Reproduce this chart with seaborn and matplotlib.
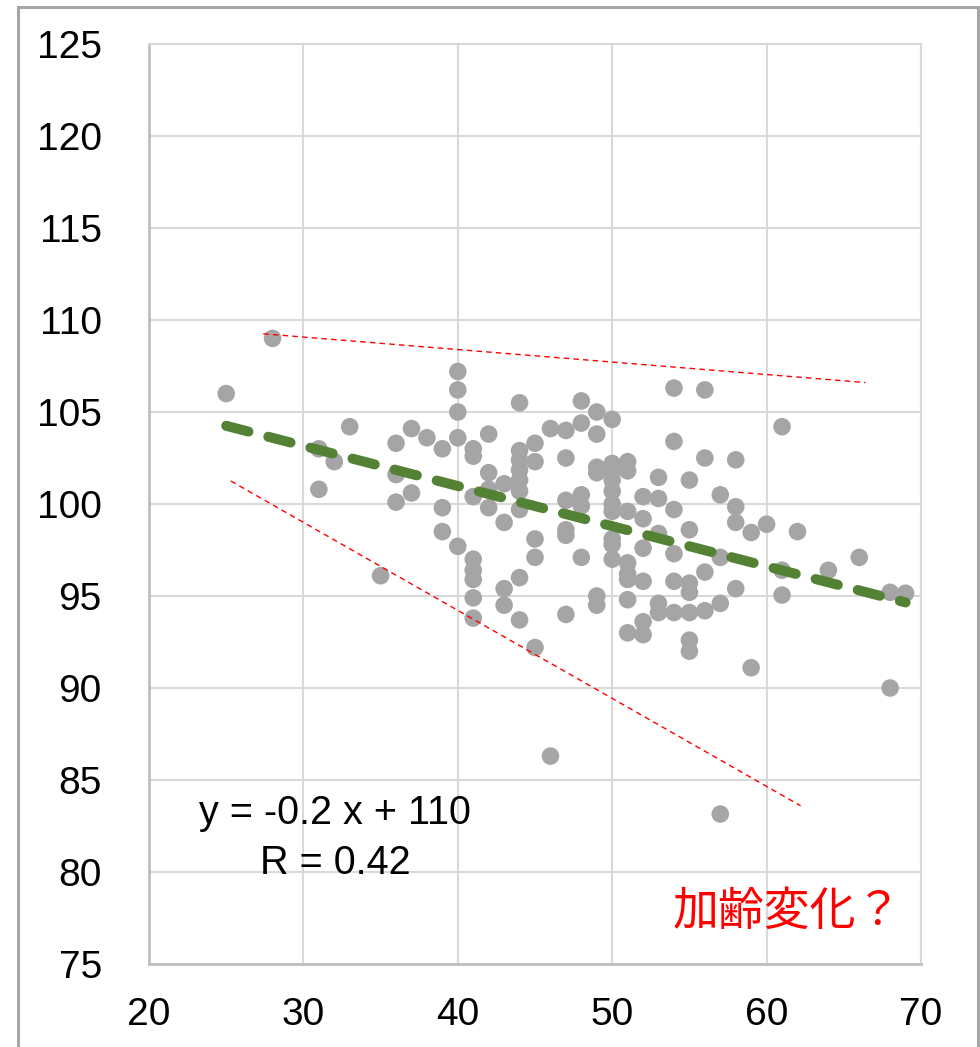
import numpy as np
import pandas as pd
import seaborn as sns
import matplotlib.pyplot as plt
from matplotlib.patches import Rectangle

# -----------------------------
# Data
# -----------------------------
age = [25, 28, 31, 31, 32, 33, 35, 36, 36, 36, 37, 37, 38, 39, 39, 39,
       40, 40, 40, 40, 40,
       41, 41, 41, 41, 41, 41, 41, 41,
       42, 42, 42, 42,
       43, 43, 43, 43,
       44, 44, 44, 44, 44, 44, 44, 44, 44,
       45, 45, 45, 45, 45,
       46, 46,
       47, 47, 47, 47, 47, 47,
       48, 48, 48, 48, 48,
       49, 49, 49, 49, 49, 49,
       50, 50, 50, 50, 50, 50, 50, 50, 50, 50,
       51, 51, 51, 51, 51, 51, 51, 51,
       52, 52, 52, 52, 52, 52,
       53, 53, 53, 53, 53,
       54, 54, 54, 54, 54, 54,
       55, 55, 55, 55, 55, 55, 55,
       56, 56, 56, 56,
       57, 57, 57, 57,
       58, 58, 58, 58,
       59, 59, 60, 61, 61, 61, 62, 64, 66, 68, 68, 69]
value = [106.0, 109.0, 103.0, 100.8, 102.3, 104.2, 96.1, 103.3, 101.6, 100.1, 104.1, 100.6, 103.6, 103.0, 99.8, 98.5,
         107.2, 106.2, 105.0, 103.6, 97.7,
         103.0, 102.6, 100.4, 97.0, 96.4, 95.9, 94.9, 93.8,
         103.8, 101.7, 100.8, 99.8,
         101.1, 99.0, 95.4, 94.5,
         105.5, 102.9, 102.4, 101.85, 101.3, 100.7, 99.7, 96.0, 93.7,
         103.3, 102.3, 98.1, 97.1, 92.2,
         104.1, 86.3,
         104.0, 102.5, 100.2, 98.6, 98.3, 94.0,
         105.6, 104.4, 100.5, 99.9, 97.1,
         105.0, 103.8, 102.0, 101.7, 95.0, 94.5,
         104.6, 102.2, 101.8, 101.3, 100.7, 100.0, 99.6, 98.1, 97.8, 97.0,
         102.3, 101.8, 99.6, 96.8, 96.2, 95.9, 94.8, 93.0,
         100.4, 99.2, 97.6, 95.8, 93.6, 92.9,
         101.45, 100.3, 98.4, 94.6, 94.1,
         106.3, 103.4, 99.7, 97.3, 95.8, 94.1,
         101.3, 98.6, 95.7, 95.2, 94.1, 92.6, 92.0,
         106.2, 102.5, 96.3, 94.2,
         100.5, 97.1, 94.6, 83.15,
         102.4, 99.85, 99.0, 95.4,
         98.45, 91.1, 98.9, 104.2, 96.4, 95.05, 98.5, 96.4, 97.1, 95.2, 90.0, 95.15]

# trend line and hand-drawn envelope lines (end points)
trend_x = [25, 69]
trend_y = [104.25, 94.65]
upper_x = [27.4, 66.4]
upper_y = [109.25, 106.6]
lower_x = [25.3, 62.2]
lower_y = [101.25, 83.6]

x_ticks = [20, 30, 40, 50, 60, 70]
y_ticks = [75, 80, 85, 90, 95, 100, 105, 110, 115, 120, 125]

df = pd.DataFrame({"age": age, "value": value})

# -----------------------------
# Plot
# -----------------------------
sns.set_theme(style="whitegrid")
plt.rcParams['font.family'] = ['Liberation Sans', 'Noto Sans CJK JP']

fig = plt.figure(figsize=(9.8, 10.47), dpi=100)
ax = fig.add_axes([149 / 980, 1 - 964 / 1047, (921 - 149) / 980, (964 - 44) / 1047])

sns.scatterplot(data=df, x="age", y="value", color="#a5a5a5", s=160,
                edgecolor="none", linewidth=0, ax=ax, zorder=3)

sns.lineplot(x=trend_x, y=trend_y, color="#548235", linewidth=7.2, ax=ax,
             dashes=False, zorder=4)
ax.lines[-1].set_linestyle((0, (2.3, 2.05)))
ax.lines[-1].set_dash_capstyle("round")

for xs, ys in [(upper_x, upper_y), (lower_x, lower_y)]:
    sns.lineplot(x=xs, y=ys, color="red", linewidth=1.0, ax=ax, zorder=4)
    ax.lines[-1].set_linestyle((0, (4, 3)))

ax.set_xlim(20, 70)
ax.set_ylim(75, 125)
ax.set_xticks(x_ticks)
ax.set_yticks(y_ticks)
ax.tick_params(axis="both", length=0, labelsize=28, colors="black")
ax.tick_params(axis="x", pad=24)
ax.tick_params(axis="y", pad=34)
ax.set_xlabel("")
ax.set_ylabel("")
ax.grid(True, color="#d9d9d9", linewidth=1.5)
ax.set_axisbelow(True)
for side in ["top", "right"]:
    ax.spines[side].set_color("#d9d9d9")
    ax.spines[side].set_linewidth(1.5)
for side in ["left", "bottom"]:
    ax.spines[side].set_color("#bfbfbf")
    ax.spines[side].set_linewidth(2.0)

ax.text(0.241, 0.137, "y = -0.2 x + 110\nR = 0.42", transform=ax.transAxes,
        ha="center", va="center", fontsize=28.5, linespacing=1.38, color="black")
ax.text(0.975, 0.055, "加齢変化？", transform=ax.transAxes, ha="right",
        va="center", fontsize=33, color="red")

# outer chart frame
fig.patches.append(Rectangle((18 / 980, -0.1), (978 - 18) / 980, 1 - 7 / 1047 + 0.1,
                             transform=fig.transFigure, fill=False,
                             edgecolor="#a6a6a6", linewidth=2.2))

plt.savefig("out.png", dpi=100)
plt.close()
